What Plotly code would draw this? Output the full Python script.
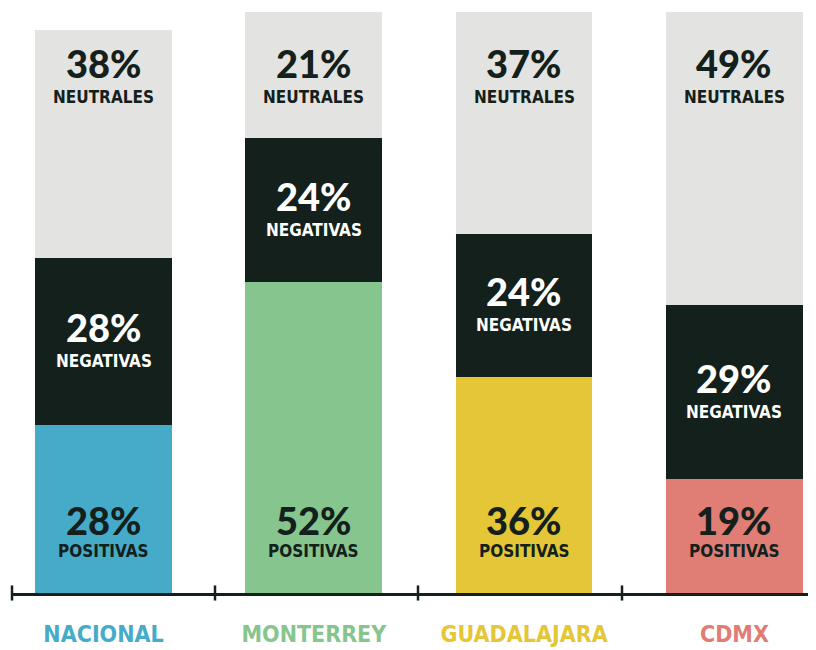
import plotly.graph_objects as go

categories = ["NACIONAL", "MONTERREY", "GUADALAJARA", "CDMX"]
positivas = [28, 52, 36, 19]
negativas = [28, 24, 24, 29]
neutrales = [38, 21, 37, 49]
cat_colors = ["#46abc9", "#87c58e", "#e5c636", "#e07d74"]
neg_color = "#13201b"
neu_color = "#e3e3e1"
dark = "#13201b"

PCT_FONT = "Lato"
LBL_FONT = "DejaVu Sans Condensed, Roboto Condensed, Liberation Sans Narrow, Roboto, sans-serif"

fig = go.Figure()
fig.add_bar(x=categories, y=positivas, marker_color=cat_colors, width=0.65,
            marker_line_width=0, hoverinfo="skip")
fig.add_bar(x=categories, y=negativas, marker_color=neg_color, width=0.65,
            marker_line_width=0, hoverinfo="skip")
fig.add_bar(x=categories, y=neutrales, marker_color=neu_color, width=0.65,
            marker_line_width=0, hoverinfo="skip")

annotations = []
def add_pair(x, y, yref, pct, label, color, shift_pct, shift_lbl):
    annotations.append(dict(x=x, y=y, yref=yref, xref="x", text=f"{pct}%",
                            showarrow=False, yshift=shift_pct, yanchor="middle",
                            font=dict(family=PCT_FONT, size=38, color=color, weight=900)))
    annotations.append(dict(x=x, y=y, yref=yref, xref="x", text=label,
                            showarrow=False, yshift=shift_lbl, yanchor="middle",
                            font=dict(family=LBL_FONT, size=17, color=color, weight="bold")))

for i, c in enumerate(categories):
    add_pair(c, 0, "y", positivas[i], "POSITIVAS", dark, 73, 42)
    add_pair(c, positivas[i] + negativas[i] / 2, "y", negativas[i], "NEGATIVAS", "white", 14, -20)
    add_pair(c, 1, "paper", neutrales[i], "NEUTRALES", dark, -51, -85)

ticktext = [f"<span style='color:{col}'>{c}</span>" for c, col in zip(categories, cat_colors)]

# page is offset by the browser's 8px body margin; compensate in margins
plot_left, plot_w = 3, 805
tick_px = [4, 207, 410, 614]  # decorative axis ticks, figure pixels
shapes = []
for px in tick_px:
    xf = (px - plot_left) / plot_w
    shapes.append(dict(type="line", xref="paper", yref="paper", x0=xf, x1=xf,
                       y0=-0.013, y1=0.013, line=dict(color=dark, width=2.5)))

fig.update_layout(
    width=816, height=650,
    margin=dict(l=plot_left, r=816 - plot_left - plot_w, t=4, b=65),
    plot_bgcolor="white", paper_bgcolor="white",
    barmode="stack", bargap=0.35, showlegend=False,
    xaxis=dict(type="category", range=[-0.44, 3.388], tickmode="array",
               tickvals=categories, ticktext=ticktext, ticks="", tickangle=0,
               automargin=False,
               showline=True, linecolor=dark, linewidth=3, showgrid=False,
               zeroline=False, ticklabelstandoff=18,
               tickfont=dict(family=LBL_FONT, size=23, weight="bold")),
    yaxis=dict(range=[0, 97], visible=False, showgrid=False, zeroline=False,
               automargin=False),
    annotations=annotations, shapes=shapes,
)

fig.write_html("out.html")
